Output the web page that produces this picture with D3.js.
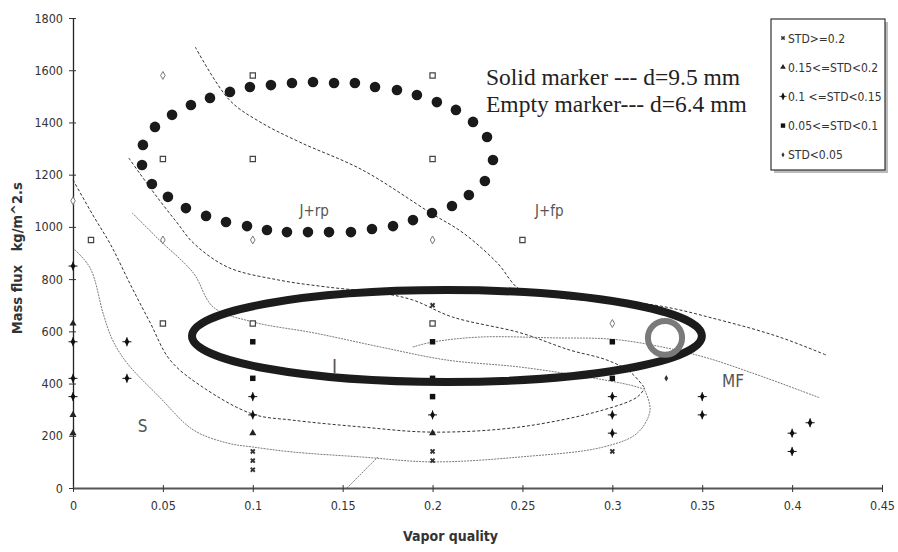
<!DOCTYPE html>
<html>
<head>
<meta charset="utf-8">
<script src="https://cdn.jsdelivr.net/npm/d3@7/dist/d3.min.js"></script>
<style>
  html, body { margin: 0; padding: 0; background: #fff; }
  svg { display: block; }
</style>
</head>
<body>
<svg id="chart" width="898" height="552"></svg>
<script>
// ---- data ----------------------------------------------------------------
const xTicks = [0, 0.05, 0.1, 0.15, 0.2, 0.25, 0.3, 0.35, 0.4, 0.45];
const xTickLabels = ["0", "0.05", "0.1", "0.15", "0.2", "0.25", "0.3", "0.35", "0.4", "0.45"];
const yTicks = [0, 200, 400, 600, 800, 1000, 1200, 1400, 1600, 1800];

// STD classes: 0 = x, 1 = triangle, 2 = diamond with cross, 3 = square, 4 = small diamond
const stdClasses = ["STD>=0.2", "0.15<=STD<0.2", "0.1 <=STD<0.15", "0.05<=STD<0.1", "STD<0.05"];

// solid markers, d = 9.5 mm : [vapor quality, mass flux, class]
const solidPoints = [
  [0, 850, 2], [0, 630, 1], [0, 560, 2], [0, 420, 2], [0, 350, 2], [0, 280, 1], [0, 210, 1],
  [0.03, 560, 2], [0.03, 420, 2],
  [0.1, 560, 3], [0.1, 420, 3], [0.1, 350, 2], [0.1, 280, 2], [0.1, 210, 1], [0.1, 140, 0], [0.1, 105, 0], [0.1, 70, 0],
  [0.2, 700, 0], [0.2, 560, 3], [0.2, 420, 3], [0.2, 350, 3], [0.2, 280, 2], [0.2, 210, 1], [0.2, 140, 0], [0.2, 105, 0],
  [0.3, 560, 3], [0.3, 420, 3], [0.3, 350, 2], [0.3, 280, 2], [0.3, 210, 2], [0.3, 140, 0],
  [0.33, 420, 4],
  [0.35, 350, 2], [0.35, 280, 2],
  [0.4, 210, 2], [0.4, 140, 2],
  [0.41, 250, 2]
];

// empty markers, d = 6.4 mm : [vapor quality, mass flux, class]
const emptyPoints = [
  [0, 1100, 4], [0.01, 950, 3],
  [0.05, 1580, 4], [0.05, 1260, 3], [0.05, 950, 4], [0.05, 630, 3],
  [0.1, 1580, 3], [0.1, 1260, 3], [0.1, 950, 4], [0.1, 630, 3],
  [0.2, 1580, 3], [0.2, 1260, 3], [0.2, 950, 4], [0.2, 630, 3],
  [0.25, 950, 3],
  [0.3, 630, 4]
];

// flow-pattern transition lines : [vapor quality, mass flux]
const dashedUpper = [[0.068, 1689], [0.087, 1486], [0.104, 1402], [0.126, 1325], [0.161, 1218], [0.199, 1053],
  [0.217, 977], [0.236, 862], [0.249, 758], [0.271, 728], [0.323, 701], [0.360, 643], [0.393, 578], [0.419, 509]];
const dashedMiddle = [[0.031, 1264], [0.037, 1206], [0.048, 1103], [0.058, 1015], [0.067, 938], [0.086, 846],
  [0.114, 797], [0.141, 770], [0.171, 747], [0.189, 720], [0.211, 655], [0.249, 594], [0.276, 529],
  [0.297, 490], [0.310, 444], [0.318, 383]];
const dashedLower = [[0, 1180], [0.011, 1046], [0.021, 931], [0.032, 778], [0.043, 632], [0.054, 490],
  [0.072, 387], [0.100, 283], [0.122, 260], [0.160, 234], [0.200, 214], [0.249, 234], [0.295, 299],
  [0.314, 349], [0.318, 383]];
const boundaryS = [[0, 919], [0.0095, 843], [0.017, 663], [0.022, 567], [0.030, 479], [0.048, 349], [0.067, 222],
  [0.086, 172], [0.100, 157], [0.122, 138], [0.160, 119], [0.200, 100], [0.249, 119], [0.295, 157],
  [0.314, 211], [0.321, 299], [0.318, 375]];
const boundaryI = [[0.033, 1053], [0.048, 950], [0.067, 823], [0.078, 693], [0.100, 636], [0.134, 594],
  [0.171, 540], [0.208, 490], [0.249, 463], [0.286, 425], [0.310, 394], [0.318, 378]];
const boundaryMF = [[0.189, 540], [0.200, 559], [0.226, 578], [0.267, 575], [0.304, 567], [0.347, 509],
  [0.378, 440], [0.4155, 345]];
const boundaryLow = [[0.1524, 0], [0.1696, 119]];

// highlighted regions: ellipse of dots, thick ellipse, small ring
const dotRing = [[0.0384, 1237], [0.0389, 1314], [0.0456, 1383], [0.0551, 1429], [0.0656, 1467], [0.0762, 1494],
  [0.0873, 1517], [0.0984, 1536], [0.1101, 1543], [0.1218, 1551], [0.1335, 1555], [0.1452, 1551],
  [0.1568, 1551], [0.168, 1536], [0.1802, 1524], [0.1913, 1505], [0.2024, 1478], [0.2130, 1448],
  [0.2225, 1402], [0.2303, 1344], [0.2336, 1256], [0.2291, 1176], [0.2202, 1122], [0.2108, 1080],
  [0.1997, 1053], [0.1891, 1026], [0.178, 1003], [0.1663, 992], [0.1546, 980], [0.1424, 980],
  [0.1307, 980], [0.119, 980], [0.1079, 988], [0.0968, 1003], [0.0851, 1019], [0.074, 1042],
  [0.0628, 1072], [0.0528, 1115], [0.0439, 1164]];
const bigEllipse = { cx: 0.208, cy: 582, rx: 0.1418, ry: 176 };
const smallRing = { cx: 0.3293, cy: 575, rx: 0.0095, ry: 65 };

const regionLabels = [
  { text: "J+rp", q: 0.126, g: 1040, size: 15 },
  { text: "J+fp", q: 0.257, g: 1040, size: 15 },
  { text: "I", q: 0.144, g: 440, size: 19 },
  { text: "S", q: 0.036, g: 215, size: 17 },
  { text: "MF", q: 0.361, g: 385, size: 17 }
];

// ---- layout ----------------------------------------------------------------
const svg = d3.select("#chart");
const x = d3.scaleLinear().domain([0, 0.45]).range([73, 882]);
const y = d3.scaleLinear().domain([0, 1800]).range([488, 18]);
const NARROW = "'Liberation Sans Narrow', 'DejaVu Sans Condensed', 'Arial Narrow', sans-serif";

// ---- transition lines ------------------------------------------------------
const line = d3.line().x(d => x(d[0])).y(d => y(d[1])).curve(d3.curveCatmullRom.alpha(0.5));
const gLines = svg.append("g");
[dashedUpper, dashedMiddle, dashedLower].forEach(pts => {
  gLines.append("path").attr("d", line(pts)).attr("fill", "none")
    .attr("stroke", "#333").attr("stroke-width", 1).attr("stroke-dasharray", "3,2");
});
[boundaryS, boundaryI, boundaryMF, boundaryLow].forEach(pts => {
  gLines.append("path").attr("d", line(pts)).attr("fill", "none")
    .attr("stroke", "#7a7a7a").attr("stroke-width", 1).attr("stroke-dasharray", "2,1");
});

// ---- axes ------------------------------------------------------------------
const yAxis = d3.axisLeft(y).tickValues(yTicks).tickFormat(d3.format("d")).tickSize(4).tickSizeOuter(0).tickPadding(6);
const gy = svg.append("g").attr("transform", `translate(${x(0)},0)`).call(yAxis);
gy.selectAll(".tick line").attr("x2", 3).attr("x1", -4).attr("stroke", "#333");
gy.select(".domain").attr("stroke", "#222").attr("stroke-width", 1.3);

const xAxis = d3.axisBottom(x).tickValues(xTicks).tickFormat((d, i) => xTickLabels[i]).tickSize(4).tickSizeOuter(0).tickPadding(9);
const gx = svg.append("g").attr("transform", `translate(0,${y(0)})`).call(xAxis);
gx.selectAll(".tick line").attr("y1", -3).attr("y2", 4).attr("stroke", "#333");
gx.select(".domain").attr("stroke", "#555").attr("stroke-width", 2.2);

svg.selectAll(".tick text").attr("font-family", NARROW).attr("font-size", 12.5).attr("fill", "#333");

// ---- markers ---------------------------------------------------------------
function drawMarker(g, cls, filled) {
  const ink = filled ? "#111" : "#444";
  if (cls === 0) {
    g.append("path").attr("d", d3.symbol(d3.symbolCross, 18)()).attr("transform", "rotate(45)")
      .attr("fill", filled ? "#333" : "#fff").attr("stroke", filled ? "none" : ink).attr("stroke-width", 0.8);
  } else if (cls === 1) {
    g.append("path").attr("d", d3.symbol(d3.symbolTriangle, 22)())
      .attr("fill", filled ? "#222" : "#fff").attr("stroke", filled ? "none" : ink);
  } else if (cls === 2) {
    g.append("path").attr("d", d3.symbol(d3.symbolDiamond, 20)()).attr("fill", "#111");
    g.append("path").attr("d", "M-4.5,0H4.5M0,-4.5V4.5").attr("stroke", "#111").attr("stroke-width", 1);
  } else if (cls === 3) {
    g.append("path").attr("d", d3.symbol(d3.symbolSquare, filled ? 30 : 28)())
      .attr("fill", filled ? "#111" : "#fff").attr("stroke", filled ? "none" : ink).attr("stroke-width", 1.2);
  } else {
    g.append("path").attr("d", d3.symbol(d3.symbolDiamond, filled ? 12 : 18)())
      .attr("fill", filled ? "#333" : "#fff").attr("stroke", filled ? "none" : "#777").attr("stroke-width", 1);
  }
}
const gMarks = svg.append("g");
emptyPoints.forEach(p => drawMarker(gMarks.append("g").attr("transform", `translate(${x(p[0])},${y(p[1])})`), p[2], false));
solidPoints.forEach(p => drawMarker(gMarks.append("g").attr("transform", `translate(${x(p[0])},${y(p[1])})`), p[2], true));

// ---- highlighted regions ---------------------------------------------------
svg.append("ellipse")
  .attr("cx", x(bigEllipse.cx)).attr("cy", y(bigEllipse.cy))
  .attr("rx", x(bigEllipse.cx + bigEllipse.rx) - x(bigEllipse.cx))
  .attr("ry", y(bigEllipse.cy) - y(bigEllipse.cy + bigEllipse.ry))
  .attr("fill", "none").attr("stroke", "#1c1c1c").attr("stroke-width", 8);

svg.append("ellipse")
  .attr("cx", x(smallRing.cx)).attr("cy", y(smallRing.cy))
  .attr("rx", x(smallRing.cx + smallRing.rx) - x(smallRing.cx))
  .attr("ry", y(smallRing.cy) - y(smallRing.cy + smallRing.ry))
  .attr("fill", "none").attr("stroke", "#7a7a7a").attr("stroke-width", 6);

svg.append("g").selectAll("circle").data(dotRing).join("circle")
  .attr("cx", d => x(d[0])).attr("cy", d => y(d[1])).attr("r", 5.3).attr("fill", "#1a1a1a");

// ---- region labels ---------------------------------------------------------
svg.append("g").selectAll("text").data(regionLabels).join("text")
  .attr("x", d => x(d.q)).attr("y", d => y(d.g))
  .attr("font-family", NARROW).attr("font-size", d => d.size)
  .attr("font-weight", d => d.text === "I" ? 300 : 400)
  .attr("fill", "#555").text(d => d.text);

// ---- notes -----------------------------------------------------------------
const notes = ["Solid marker --- d=9.5 mm", "Empty marker--- d=6.4 mm"];
svg.append("g").selectAll("text").data(notes).join("text")
  .attr("x", 486).attr("y", (d, i) => 85 + i * 27)
  .attr("font-family", "'Liberation Serif', 'DejaVu Serif', serif").attr("font-size", 23.5)
  .attr("fill", "#222").style("white-space", "pre").text(d => d);

// ---- axis titles -----------------------------------------------------------
svg.append("text").attr("x", x(0.21)).attr("y", 541).attr("text-anchor", "middle")
  .attr("font-family", NARROW).attr("font-weight", "bold").attr("font-size", 14).attr("fill", "#333")
  .text("Vapor quality");
svg.append("text").attr("transform", `translate(22,${y(880)}) rotate(-90)`).attr("text-anchor", "middle")
  .attr("font-family", NARROW).attr("font-weight", "bold").attr("font-size", 14.5).attr("fill", "#333")
  .style("white-space", "pre").text("Mass flux   kg/m^2.s");

// ---- legend ----------------------------------------------------------------
const lg = svg.append("g");
lg.append("rect").attr("x", 774).attr("y", 22).attr("width", 114).attr("height", 151).attr("fill", "#bbb");
lg.append("rect").attr("x", 771).attr("y", 19).attr("width", 114).attr("height", 151)
  .attr("fill", "#fff").attr("stroke", "#333").attr("stroke-width", 1.2);
stdClasses.forEach((label, i) => {
  const row = lg.append("g").attr("transform", `translate(783,${38 + i * 29.2})`);
  const m = row.append("g").attr("transform", "scale(0.8)");
  drawMarker(m, i, true);
  row.append("text").attr("x", 5).attr("y", 4.5).attr("font-family", NARROW).attr("font-size", 12)
    .attr("fill", "#333").style("white-space", "pre").text(label);
});
</script>
</body>
</html>
